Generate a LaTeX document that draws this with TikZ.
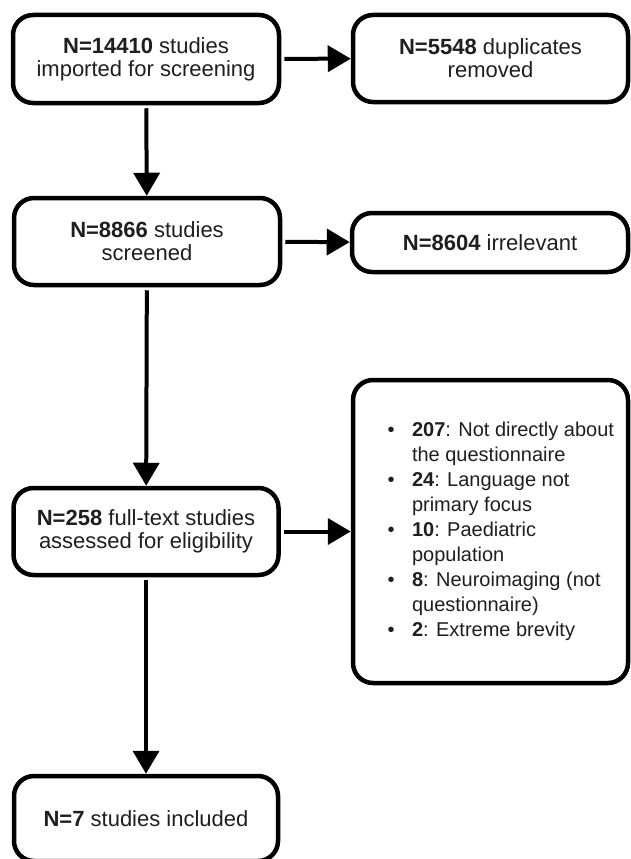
\documentclass[tikz,border=0pt]{standalone}
\usepackage{fontspec}
\setmainfont{Liberation Sans}
\usetikzlibrary{arrows.meta}

\begin{document}
\begin{tikzpicture}[x=1pt, y=-1pt,
        box/.style={draw, line width=4.5pt, rounded corners=20pt, align=center, inner sep=0pt,
            text=black!88, font=\fontsize{22}{23}\selectfont},
        flow/.style={line width=4pt, -{Triangle[length=23pt, width=26pt]}, shorten <=3pt}]
        \useasboundingbox[fill=white] (0,0) rectangle (630,859);

        \node[box, minimum width=266pt, minimum height=88pt] (imp) at (146,59) {\textbf{N=14410} studies\\imported for screening};
        \node[box, minimum width=275pt, minimum height=87pt] (dup) at (490.5,58.5) {\textbf{N=5548} duplicates\\removed};
        \node[box, minimum width=266pt, minimum height=87pt] (scr) at (147,241.5) {\textbf{N=8866} studies\\screened};
        \node[box, minimum width=276pt, minimum height=59pt] (irr) at (490,242.5) {\textbf{N=8604} irrelevant};
        \node[box, minimum width=265pt, minimum height=87pt] (full) at (146,531.5) {\textbf{N=258} full-text studies\\assessed for eligibility};
        \node[box, minimum width=275pt, minimum height=303pt, font=\fontsize{20}{25}\selectfont] (excl) at (490.5,531.5) {%
            \begin{tabular}{@{\hspace{20.5pt}}l@{\hspace{17.5pt}}l@{}}
            \textbullet & \textbf{207}: Not directly about\\
             & the questionnaire\\
            \textbullet & \textbf{24}: Language not\\
             & primary focus\\
            \textbullet & \textbf{10}: Paediatric\\
             & population\\
            \textbullet & \textbf{8}: Neuroimaging (not\\
             & questionnaire)\\
            \textbullet & \textbf{2}: Extreme brevity
            \end{tabular}};
        \node[box, minimum width=264pt, minimum height=85pt] (incl) at (146,818.5) {\textbf{N=7} studies included};

        \draw[flow] (imp) -- (dup);
        \draw[flow] (imp) -- (scr);
        \draw[flow] (scr) -- (irr);
        \draw[flow] (scr) -- (full);
        \draw[flow] (full) -- (excl);
        \draw[flow] (full) -- (incl);
\end{tikzpicture}
\end{document}
